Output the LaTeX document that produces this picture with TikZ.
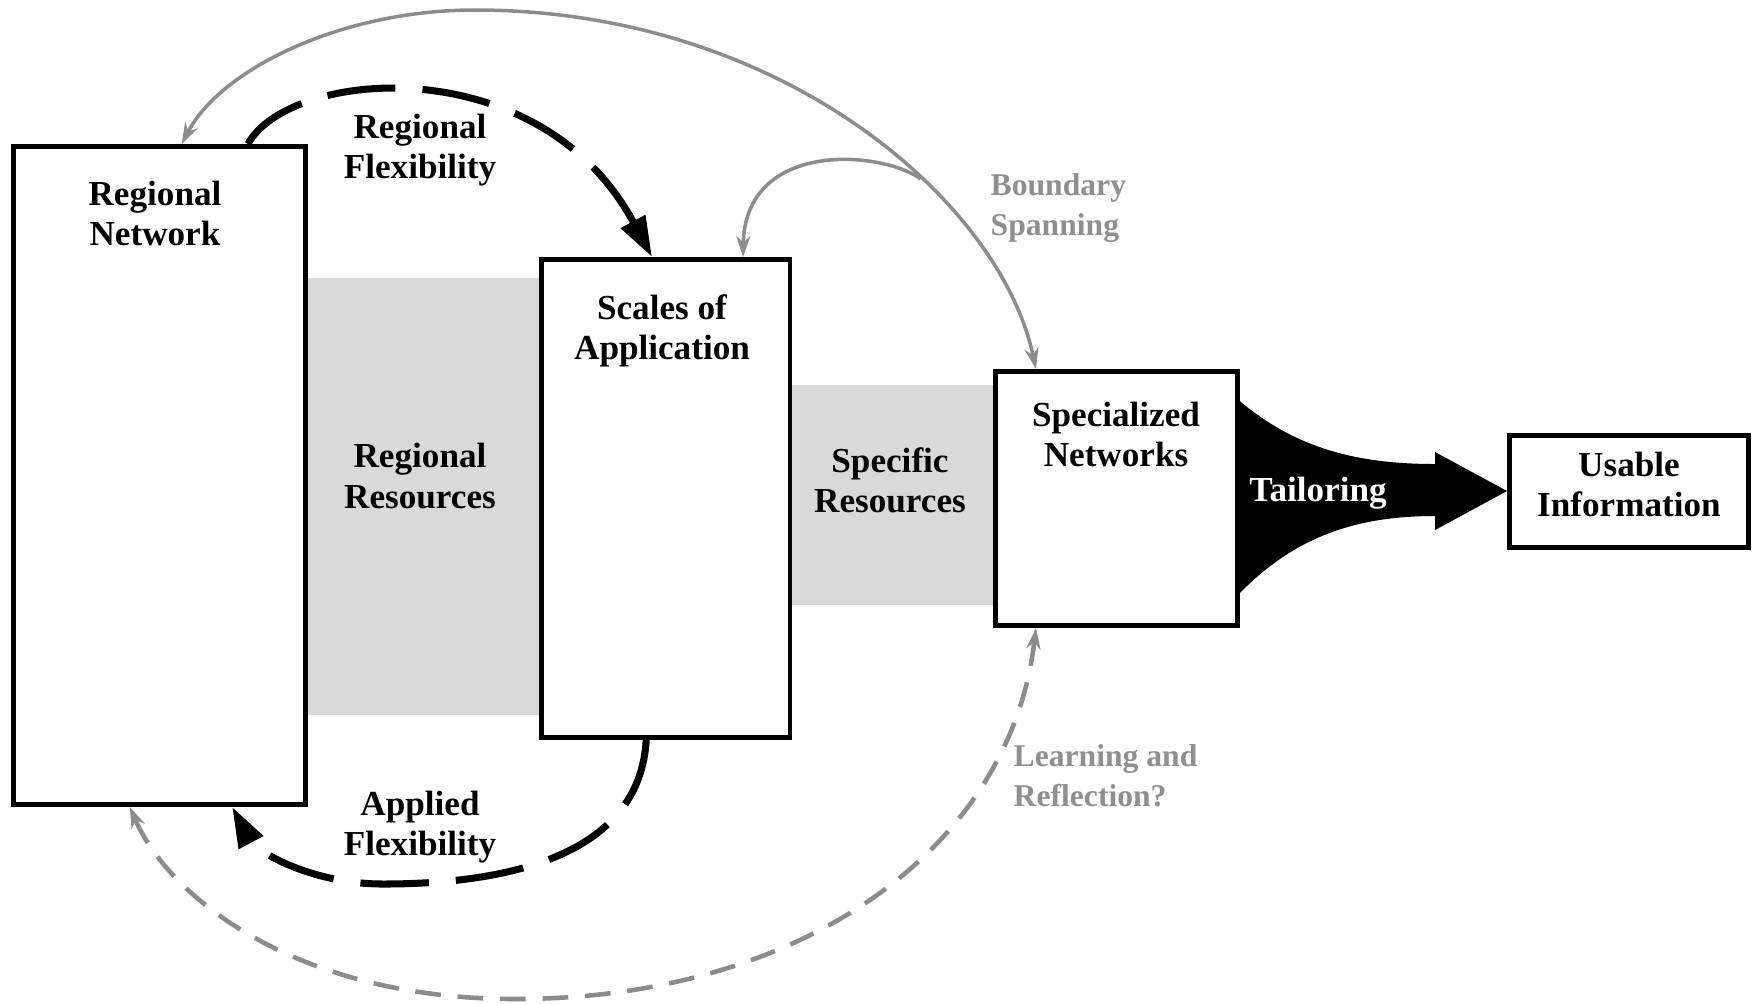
\documentclass[tikz,border=0pt]{standalone}
\usepackage{fontspec}
\setmainfont{Liberation Serif}
\usetikzlibrary{arrows.meta,calc}
\definecolor{bandgray}{HTML}{D9D9D9}
\definecolor{arcgray}{HTML}{8C8C8C}
\definecolor{txtgray}{HTML}{8F8F8F}
\begin{document}
\begin{tikzpicture}[x=0.1mm,y=-0.1mm,
  box/.style={draw=black, line width=1.4pt, fill=white, inner sep=0pt, anchor=north west},
  band/.style={fill=bandgray, draw=none, inner sep=0pt, anchor=north west},
  lbl/.style={font=\fontsize{10}{11.4}\selectfont\bfseries, align=center, inner sep=0pt},
  glbl/.style={font=\fontsize{9}{11.4}\selectfont\bfseries, inner sep=0pt, text=txtgray, align=left, anchor=west},
  flexarrow/.style={line width=2pt, dash pattern=on 19.5pt off 7.7pt, -{Triangle[length=11.5pt,width=7.5pt]}},
  grayhead/.tip={Stealth[length=6pt,width=4pt]},
  grayarc/.style={draw=arcgray, line width=1pt},
  graydash/.style={draw=arcgray, line width=1.3pt, dash pattern=on 7.3pt off 4.8pt},
]
\useasboundingbox (0,0) rectangle (1754,1003);
% shaded bands
\node[band, minimum width=23.6mm, minimum height=43.7mm] (rrband) at (303,277) {};
\node[band, minimum width=20.6mm, minimum height=22.0mm] (srband) at (787,384) {};
% tailoring funnel
\fill[black] (1235,397) .. controls (1290,445) and (1350,464) .. (1435,464) -- (1435,452) -- (1507,491) -- (1435,530) -- (1435,516) .. controls (1350,516) and (1290,540) .. (1235,598) -- cycle;
% boxes
\node[box, minimum width=29.2mm, minimum height=65.8mm] (rn) at (11,144) {};
\node[box, minimum width=24.85mm, minimum height=47.8mm] (sa) at (539,257) {};
\node[box, minimum width=24.2mm, minimum height=25.4mm] (sn) at (993,369) {};
\node[box, minimum width=23.9mm, minimum height=11.2mm] (ui) at (1507,433) {};
% labels
\node[lbl] (uil) at ($(ui.center)+(0,-7)$) {Usable\\Information};
\node[lbl] (rnl) at (155,213) {Regional\\Network};
\node[lbl] (sal) at (662,331) {Scales of\\Application};
\node[lbl] (snl) at (1116,434) {Specialized\\Networks};
\node[lbl] (rrl) at (420,476) {Regional\\Resources};
\node[lbl] (srl) at (890,480) {Specific\\Resources};
\node[lbl, text=white] (tl) at (1318,493) {Tailoring};
\node[lbl] (rfl) at (420,150) {Regional\\Flexibility};
\node[lbl] (afl) at (420,827) {Applied\\Flexibility};
\node[glbl] (bsl) at (990,208) {Boundary\\Spanning};
\node[glbl] (lrl) at (1013,776) {Learning and\\Reflection?};
% anchor points on boxes
\coordinate (rnA) at ($(rn.north west)!0.575!(rn.north east)$);
\coordinate (rnB) at ($(rn.north west)!0.798!(rn.north east)$);
\coordinate (rnC) at ($(rn.south west)!0.40!(rn.south east)$);
\coordinate (rnD) at ($(rn.south west)!0.745!(rn.south east)$);
\coordinate (saA) at ($(sa.north west)!0.446!(sa.north east)$);
\coordinate (saB) at ($(sa.north west)!0.805!(sa.north east)$);
\coordinate (saC) at ($(sa.south west)!0.423!(sa.south east)$);
\coordinate (snA) at ($(sn.north west)!0.174!(sn.north east)$);
\coordinate (snB) at ($(sn.south west)!0.174!(sn.south east)$);
% boundary spanning arcs
\draw[grayarc, {grayhead}-{grayhead}] (rnA) .. controls (220,70) and (340,10) .. (475,10) .. controls (780,10) and (1000,200) .. (snA) coordinate[pos=0.62] (br);
\draw[grayarc, -{grayhead}] (br) .. controls (880,150) and (745,140) .. (saB);
% regional flexibility
\draw[flexarrow] (rnB) .. controls (290,68) and (540,48) .. (saA);
% applied flexibility
\draw[flexarrow] (saC) .. controls (640,850) and (520,884) .. (383,884) .. controls (310,884) and (255,850) .. (rnD);
% learning and reflection
\draw[graydash, {grayhead}-{grayhead}] (snB) .. controls (1010,850) and (800,999) .. (515,999) .. controls (300,999) and (170,900) .. (rnC);
\end{tikzpicture}
\end{document}
